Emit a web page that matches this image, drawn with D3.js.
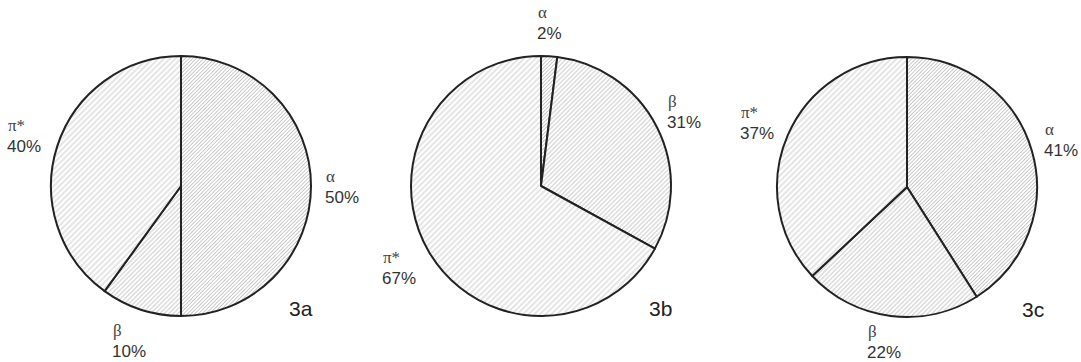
<!DOCTYPE html>
<html>
<head>
<meta charset="utf-8">
<script src="https://cdn.jsdelivr.net/npm/d3@7"></script>
<style>
  html, body { margin: 0; padding: 0; background: #fff; }
  svg { display: block; }
</style>
</head>
<body>
<svg id="chart" width="1081" height="362"></svg>
<script>
// ---- data ----
const categories = ["α", "β", "π*"];
const panelNames = ["3a", "3b", "3c"];
const values3a = [50, 10, 40];
const values3b = [2, 31, 67];
const values3c = [41, 22, 37];
const percentLabels3a = ["50%", "10%", "40%"];
const percentLabels3b = ["2%", "31%", "67%"];
const percentLabels3c = ["41%", "22%", "37%"];

// ---- layout (not data) ----
const W = 1081, H = 362;
const radius = 130;
const centers = [[181, 186], [541, 186], [907, 187]];
// label anchor offsets relative to each pie centre: [dx, dy of greek baseline, text-anchor]
const labelLayout = [
  [[145, -4, "start"], [-68, 150, "start"], [-173, -55, "start"]],
  [[-3, -168, "start"], [127, -79, "start"], [-158, 77, "start"]],
  [[138, -52, "start"], [-39, 150, "start"], [-166, -69, "start"]]
];
const panelLabelOffset = [[108, 130], [108, 130], [115, 130]];
const hatchSpacing = { "α": 2.6, "β": 3.2, "π*": 4.0 };

const svg = d3.select("#chart");
svg.append("rect").attr("width", W).attr("height", H).attr("fill", "#fff");

const defs = svg.append("defs");
categories.forEach((c, i) => {
  const s = hatchSpacing[c];
  const p = defs.append("pattern")
    .attr("id", "hatch" + i)
    .attr("patternUnits", "userSpaceOnUse")
    .attr("width", s).attr("height", s)
    .attr("patternTransform", "rotate(45)");
  p.append("rect").attr("width", s).attr("height", s).attr("fill", "#fff");
  p.append("line")
    .attr("x1", s / 2).attr("y1", 0).attr("x2", s / 2).attr("y2", s)
    .attr("stroke", "#b4b4b4").attr("stroke-width", 0.7);
});

const pie = d3.pie().sort(null).value(d => d);
const arc = d3.arc().innerRadius(0).outerRadius(radius);

const allValues = [values3a, values3b, values3c];
const allPct = [percentLabels3a, percentLabels3b, percentLabels3c];

allValues.forEach((vals, pi) => {
  const g = svg.append("g").attr("transform", `translate(${centers[pi][0]},${centers[pi][1]})`);
  const arcs = pie(vals);
  g.selectAll("path.slice").data(arcs).enter().append("path")
    .attr("class", "slice")
    .attr("d", arc)
    .attr("fill", (d, i) => `url(#hatch${i})`)
    .attr("stroke", "#222")
    .attr("stroke-width", 2)
    .attr("stroke-linejoin", "round");

  arcs.forEach((d, i) => {
    const [dx, dy, anchor] = labelLayout[pi][i];
    g.append("text")
      .attr("x", dx).attr("y", dy)
      .attr("text-anchor", anchor)
      .attr("font-family", "'Liberation Serif', 'DejaVu Serif', serif")
      .attr("font-size", 17)
      .attr("fill", "#444")
      .text(categories[i]);
    g.append("text")
      .attr("x", dx - 1).attr("y", dy + 21)
      .attr("text-anchor", anchor)
      .attr("font-family", "'Liberation Sans', Arial, sans-serif")
      .attr("font-size", 17)
      .attr("fill", "#333")
      .text(allPct[pi][i]);
  });

  g.append("text")
    .attr("x", panelLabelOffset[pi][0]).attr("y", panelLabelOffset[pi][1])
    .attr("font-family", "'Liberation Sans', Arial, sans-serif")
    .attr("font-size", 21)
    .attr("fill", "#222")
    .text(panelNames[pi]);
});
</script>
</body>
</html>
